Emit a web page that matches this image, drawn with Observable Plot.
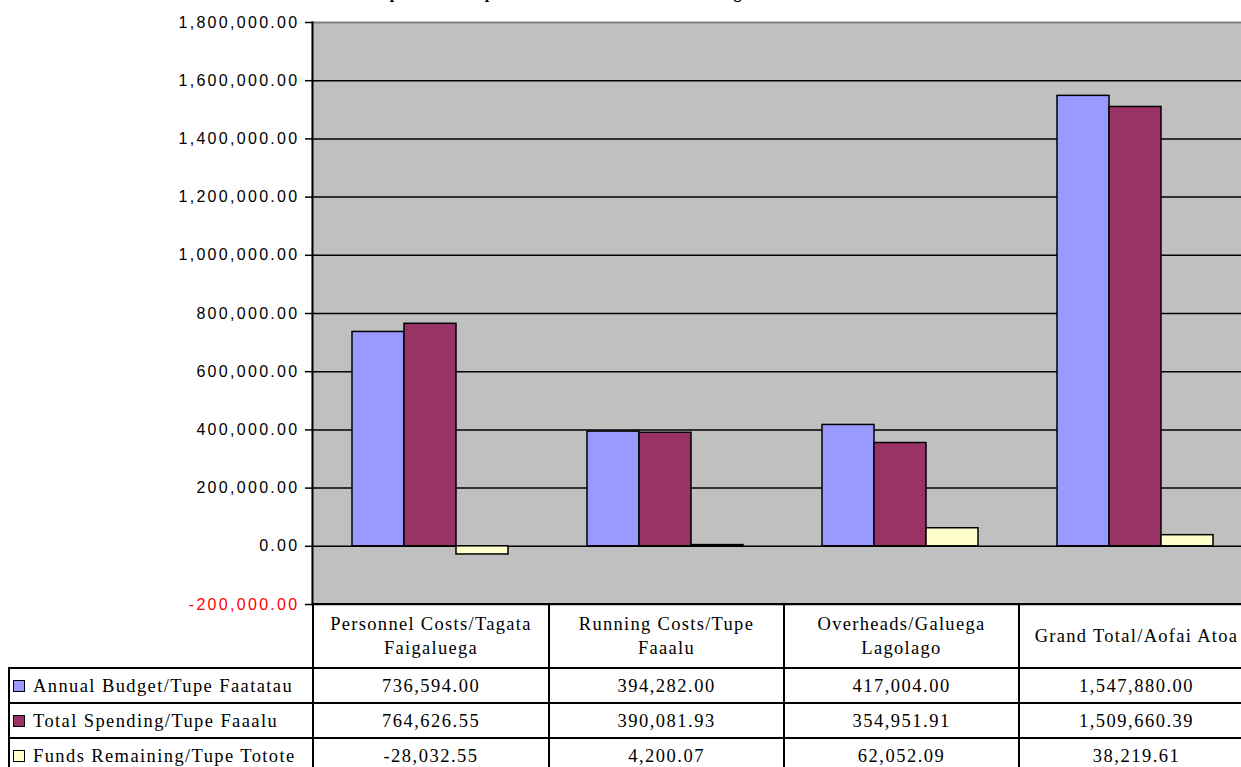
<!DOCTYPE html>
<html><head><meta charset="utf-8">
<script src="https://cdn.jsdelivr.net/npm/d3@7"></script>
<script src="https://cdn.jsdelivr.net/npm/@observablehq/plot@0.6"></script>
<style>
html,body{margin:0;padding:0;background:#fff;overflow:hidden;}
#wrap{position:relative;width:1241px;height:767px;overflow:hidden;}
#title{position:absolute;top:-16px;left:370px;font:bold 16px "Liberation Serif";white-space:nowrap;letter-spacing:0.5px;}
#chart{position:absolute;top:0;left:0;width:1252px;}
#chart svg{max-width:none !important;}
#chart svg text{letter-spacing:2.3px;}
#tbl{position:absolute;top:603px;left:8px;width:1245px;border-collapse:collapse;table-layout:fixed;font-family:"Liberation Serif";font-size:18.5px;letter-spacing:1.5px;color:#000;}
#tbl td{border:2px solid #000;text-align:center;padding:0;line-height:24px;white-space:nowrap;overflow:hidden;}
#tbl tr.head td{height:62px;letter-spacing:1.3px;}
#tbl tr.row td{height:33px;}
#tbl td.blank{border:none;border-bottom:2px solid #000;}
#tbl td.key{text-align:left;padding-left:3px;letter-spacing:1.4px;}
.sw{display:inline-block;width:10px;height:10px;border:1px solid #000;margin-right:8px;vertical-align:0px;}
</style></head>
<body><div id="wrap"><div id="title"></div><div id="chart"></div><table id="tbl"></table></div>
<script>
const title = "Expenditure Report for the Calendar Annual Budget";
const categories = ["Personnel Costs/Tagata Faigaluega", "Running Costs/Tupe Faaalu", "Overheads/Galuega Lagolago", "Grand Total/Aofai Atoa"];
const categoryLines = [["Personnel Costs/Tagata", "Faigaluega"], ["Running Costs/Tupe", "Faaalu"], ["Overheads/Galuega", "Lagolago"], ["Grand Total/Aofai Atoa"]];
const series = ["Annual Budget/Tupe Faatatau", "Total Spending/Tupe Faaalu", "Funds Remaining/Tupe Totote"];
const annualBudget = [736594.00, 394282.00, 417004.00, 1547880.00];
const totalSpending = [764626.55, 390081.93, 354951.91, 1509660.39];
const fundsRemaining = [-28032.55, 4200.07, 62052.09, 38219.61];
const yTicks = [-200000, 0, 200000, 400000, 600000, 800000, 1000000, 1200000, 1400000, 1600000, 1800000];
const colors = ["#9999FF", "#993366", "#FFFFCC"];

const seriesValues = [annualBudget, totalSpending, fundsRemaining];
const data = categories.flatMap((c, i) => series.map((s, j) => ({category: c, series: s, value: seriesValues[j][i]})));
const fmt = d3.formatLocale({decimal: ".", thousands: ",", grouping: [3], currency: ["", ""], minus: "-"}).format(",.2f");

document.getElementById("title").textContent = title;

const chart = Plot.plot({
  width: 1252, height: 614,
  marginTop: 22, marginBottom: 10, marginLeft: 312, marginRight: 0,
  style: {background: "transparent", fontFamily: "Liberation Sans, Arial", fontSize: "16px", color: "#000", maxWidth: "none"},
  facet: {marginTop: 0, marginBottom: 0, marginLeft: 0, marginRight: 0},
  fx: {domain: categories, padding: 0, axis: null},
  x: {domain: series, paddingInner: 0, paddingOuter: 0.72, axis: null},
  y: {domain: [-200000, 1800000], axis: null},
  color: {domain: series, range: colors},
  marks: [
    Plot.frame({fill: "#c0c0c0", stroke: null, insetLeft: -1, insetRight: -1}),
    Plot.ruleY(yTicks.filter(t => t < 1800000), {stroke: "#000", strokeWidth: 1.5}),
    Plot.ruleY([1800000], {stroke: "#808080", strokeWidth: 2}),
    Plot.barY(data, {fx: "category", x: "series", y: "value", fill: "series", stroke: "#000", strokeWidth: 1.5, inset: 0}),
    Plot.frame({anchor: "left", facetAnchor: "left", stroke: "#000", strokeWidth: 2}),
    Plot.axisY(yTicks.filter(t => t >= 0), {label: null, tickSize: 7, tickPadding: 6, tickFormat: fmt, fill: "#000", stroke: "#000", strokeWidth: 1.5, fontSize: 16}),
    Plot.axisY(yTicks.filter(t => t < 0), {label: null, tickSize: 7, tickPadding: 6, tickFormat: fmt, fill: "#ff0000", stroke: "#000", strokeWidth: 1.5, fontSize: 16})
  ]
});
document.getElementById("chart").appendChild(chart);

// Data table below the chart (acts as the legend)
const tbl = document.getElementById("tbl");
const colW = [304, 236, 235, 235, 235];
const cg = document.createElement("colgroup");
colW.forEach(w => { const c = document.createElement("col"); c.style.width = w + "px"; cg.appendChild(c); });
tbl.appendChild(cg);
const head = document.createElement("tr"); head.className = "head";
const blank = document.createElement("td"); blank.className = "blank"; head.appendChild(blank);
categoryLines.forEach(lines => {
  const td = document.createElement("td");
  lines.forEach((l, k) => { if (k) td.appendChild(document.createElement("br")); td.appendChild(document.createTextNode(l)); });
  head.appendChild(td);
});
tbl.appendChild(head);
series.forEach((s, j) => {
  const tr = document.createElement("tr"); tr.className = "row";
  const key = document.createElement("td"); key.className = "key";
  const sw = document.createElement("span"); sw.className = "sw"; sw.style.background = colors[j];
  key.appendChild(sw); key.appendChild(document.createTextNode(s));
  tr.appendChild(key);
  seriesValues[j].forEach(v => { const td = document.createElement("td"); td.textContent = fmt(v); tr.appendChild(td); });
  tbl.appendChild(tr);
});
</script></body></html>
